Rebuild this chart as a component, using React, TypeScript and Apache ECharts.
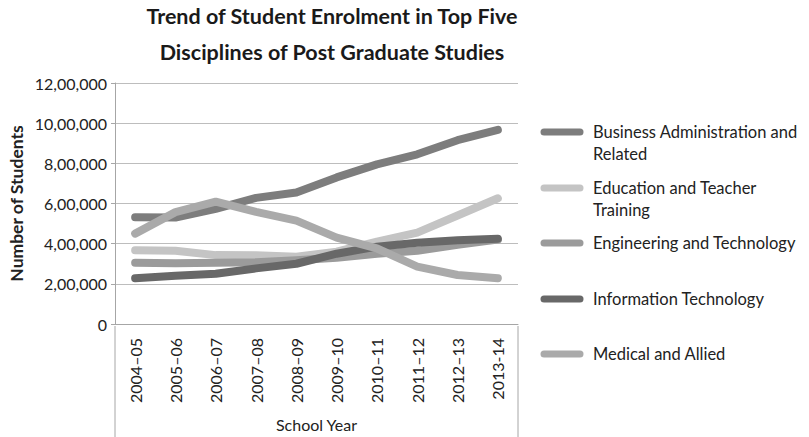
import React, { useEffect, useRef } from "react";
import * as echarts from "echarts";

const years = ["2004–05", "2005–06", "2006–07", "2007–08", "2008–09", "2009–10", "2010–11", "2011–12", "2012–13", "2013-14"];
const seriesNames = [
  "Business Administration and Related",
  "Education and Teacher Training",
  "Engineering and Technology",
  "Information Technology",
  "Medical and Allied",
];
const legendLabels = [
  "Business Administration and\nRelated",
  "Education and Teacher\nTraining",
  "Engineering and Technology",
  "Information Technology",
  "Medical and Allied",
];
const business = [532000, 530000, 573000, 628000, 655000, 730000, 795000, 845000, 915000, 967000];
const education = [367000, 365000, 343000, 342000, 335000, 360000, 410000, 455000, 540000, 626000];
const engineering = [305000, 302000, 305000, 307000, 318000, 330000, 350000, 365000, 395000, 420000];
const infoTech = [228000, 240000, 250000, 277000, 300000, 350000, 385000, 405000, 417000, 425000];
const medical = [450000, 557000, 609000, 558000, 515000, 430000, 376000, 286000, 244000, 228000];
const seriesData = [business, education, engineering, infoTech, medical];
const colors = ["#7d7d7d", "#c4c4c4", "#9b9b9b", "#686868", "#aaaaaa"];

const FONT = "Lato, 'Open Sans', sans-serif";

function indianFormat(v: number): string {
  const s = String(Math.round(v));
  if (s.length <= 3) return s;
  const last3 = s.slice(-3);
  const rest = s.slice(0, -3).replace(/\B(?=(\d{2})+(?!\d))/g, ",");
  return rest + "," + last3;
}

export default function App() {
  const ref = useRef<HTMLDivElement>(null);
  useEffect(() => {
    if (!ref.current) return;
    const chart = echarts.init(ref.current, null, { renderer: "svg" });
    const legendTops = [132, 188, 243, 299, 354];
    const graphics: any[] = [];
    legendLabels.forEach((label, i) => {
      graphics.push({
        type: "line",
        shape: { x1: 544, y1: legendTops[i], x2: 580, y2: legendTops[i] },
        style: { stroke: colors[i], lineWidth: 7, lineCap: "round" },
      });
      graphics.push({
        type: "text",
        x: 593,
        y: legendTops[i] - 11,
        style: {
          text: label,
          font: `16.5px ${FONT}`,
          fill: "#222",
          lineHeight: 22,
          verticalAlign: "top",
        },
      });
    });
    graphics.push({
      type: "line",
      shape: { x1: 115, y1: 326, x2: 115, y2: 437 },
      style: { stroke: "#a6a6a6", lineWidth: 1 },
    });
    graphics.push({
      type: "line",
      shape: { x1: 518, y1: 326, x2: 518, y2: 437 },
      style: { stroke: "#a6a6a6", lineWidth: 1 },
    });

    chart.setOption({
      animation: false,
      backgroundColor: "#ffffff",
      title: {
        text: "Trend of Student Enrolment in Top Five\nDisciplines of Post Graduate Studies",
        left: 327,
        top: -7,
        textAlign: "center",
        textStyle: { fontFamily: FONT, fontWeight: "bold", fontSize: 21.5, lineHeight: 36, color: "#1a1a1a" },
      },
      grid: { left: 115, top: 83, width: 403, height: 243, containLabel: false },
      xAxis: {
        type: "category",
        data: years,
        boundaryGap: true,
        axisLine: { show: true, lineStyle: { color: "#a6a6a6" } },
        axisTick: { show: false },
        axisLabel: { rotate: 90, margin: 14, fontFamily: FONT, fontSize: 16, color: "#222", interval: 0 },
        name: "School Year",
        nameLocation: "middle",
        nameGap: 92,
        nameTextStyle: { fontFamily: FONT, fontSize: 16, color: "#222" },
      },
      yAxis: {
        type: "value",
        min: 0,
        max: 1200000,
        interval: 200000,
        axisLine: { show: true, lineStyle: { color: "#a6a6a6" } },
        axisTick: { show: true, length: 4, lineStyle: { color: "#a6a6a6" } },
        splitLine: { show: true, lineStyle: { color: "#bdbdbd" } },
        axisLabel: { formatter: (v: number) => indianFormat(v), fontFamily: FONT, fontSize: 16, color: "#222", margin: 8 },
        name: "Number of Students",
        nameLocation: "middle",
        nameGap: 90,
        nameTextStyle: { fontFamily: FONT, fontSize: 17.5, fontWeight: "bold", color: "#222" },
      },
      series: seriesNames.map((n, i) => ({
        name: n,
        type: "line",
        data: seriesData[i],
        showSymbol: false,
        symbol: "none",
        color: colors[i],
        lineStyle: { width: 8, color: colors[i], cap: "round", join: "round" },
      })),
      graphic: graphics,
    });
    return () => chart.dispose();
  }, []);
  return <div ref={ref} style={{ position: "fixed", left: 0, top: 0, width: 809, height: 437 }} />;
}
